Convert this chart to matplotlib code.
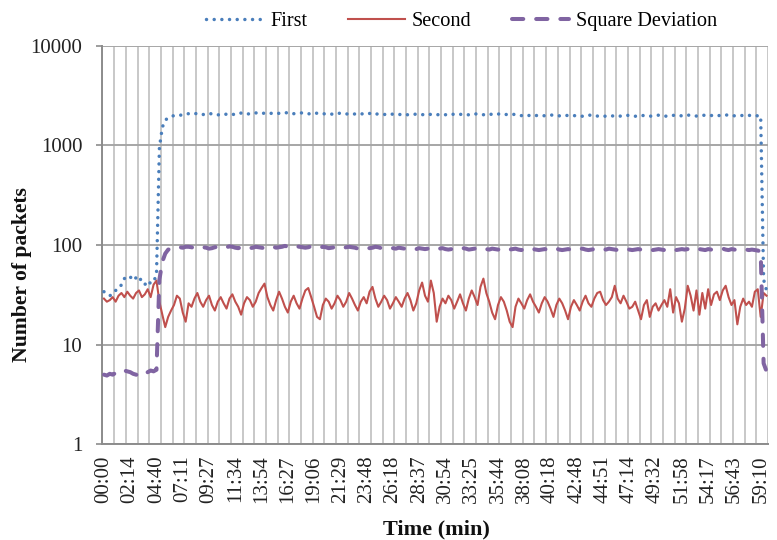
import numpy as np
import matplotlib
matplotlib.use("Agg")
import matplotlib.pyplot as plt
from matplotlib.ticker import NullLocator

plt.rcParams['font.family'] = ['Liberation Serif', 'DejaVu Serif']

# time labels shown every 9 samples
time_labels = ["00:00", "02:14", "04:40", "07:11", "09:27", "11:34", "13:54", "16:27",
               "19:06", "21:29", "23:48", "26:18", "28:37", "30:54", "33:25", "35:44",
               "38:08", "40:18", "42:48", "44:51", "47:14", "49:32", "51:58", "54:17",
               "56:43", "59:10"]

first = [34, 33, 31, 32, 35, 36, 40, 46, 49, 48, 44, 47, 49, 42, 40, 44, 41, 43, 50,
         950, 1520, 1790, 1890, 1950, 1990, 2010, 2000, 2040, 2060,
         2080, 2050, 2070, 2100, 2060, 2040, 2080, 2090, 2070, 2030,
         2020, 2050, 2030, 2060, 2080, 2050, 2040, 2090, 2110, 2070,
         2060, 2080, 2100, 2120, 2090, 2080, 2110, 2130, 2100, 2090,
         2070, 2100, 2120, 2110, 2140, 2100, 2080, 2090, 2110, 2120,
         2100, 2070, 2090, 2120, 2100, 2080, 2060, 2090, 2080, 2060,
         2050, 2080, 2110, 2090, 2070, 2060, 2040, 2070, 2100, 2080,
         2060, 2050, 2090, 2120, 2070, 2060, 2050, 2040, 2060, 2080,
         2050, 2040, 2030, 2060, 2050, 2030, 2040, 2060, 2050, 2040,
         2030, 2050, 2070, 2040, 2030, 2020, 2050, 2040, 2030, 2060,
         2070, 2040, 2030, 2050, 2040, 2020, 2030, 2060, 2080, 2050,
         2040, 2030, 2050, 2070, 2040, 2030, 2060, 2080, 2050, 2040,
         2030, 2050, 2040, 2010, 1990, 2000, 2020, 1980, 1960, 1990,
         2010, 2000, 1980, 1990, 2010, 2020, 2000, 1980, 1970, 1990,
         2000, 2010, 1990, 1980, 1970, 1960, 1980, 2000, 2020, 1990,
         1970, 1960, 1950, 1970, 1990, 1980, 1960, 1950, 1970, 1990,
         2010, 1990, 1970, 1960, 1980, 2000, 1990, 1970, 1960, 1980,
         1990, 2010, 1980, 1970, 1960, 1980, 2000, 2010, 1990, 1980,
         2000, 2020, 1990, 1980, 1970, 1990, 2010, 2000, 1980, 1990,
         2020, 2000, 1990, 1980, 2010, 2030, 2000, 1980, 1990, 2000,
         1990, 1980, 2000, 1990, 1990, 1980, 1970,
         45, 35]

second = [29, 27, 28, 30, 27, 31, 33, 30, 34, 31, 29, 33, 35, 30, 32, 36, 30, 40, 44,
          27, 20, 15, 19, 22, 25, 31, 29, 21, 17, 26, 24,
          29, 33, 27, 24, 28, 31, 25, 22, 27, 30,
          26, 23, 29, 32, 27, 24, 20, 26, 30, 28,
          24, 27, 33, 37, 41, 30, 25, 22, 28, 34,
          29, 24, 21, 27, 31, 26, 23, 29, 35, 37,
          30, 24, 19, 18, 25, 29, 27, 23, 26, 31,
          28, 24, 27, 33, 29, 25, 22, 27, 30, 26,
          34, 38, 29, 24, 27, 31, 28, 23, 26, 30,
          27, 24, 29, 33, 28, 22, 26, 35, 42, 31,
          27, 44, 33, 17, 24, 29, 26, 31, 28, 23,
          27, 32, 26, 22, 29, 35, 30, 25, 38, 46,
          33, 27, 21, 18, 25, 30, 27, 22, 17, 15,
          24, 29, 26, 23, 28, 32, 27, 24, 21, 26,
          30, 27, 23, 19, 25, 29, 26, 22, 18, 24,
          28, 25, 22, 27, 31, 26, 24, 29, 33, 34,
          28, 25, 27, 30, 39, 29, 26, 31, 27, 23,
          24, 27, 22, 18, 25, 28, 19, 24, 26, 22,
          25, 28, 24, 36, 21, 30, 26, 17, 23, 39,
          31, 22, 35, 20, 33, 23, 36, 25, 32, 34,
          28, 35, 39, 30, 25, 28, 16, 24, 29, 25,
          27, 24, 34, 36, 19, 33, 31]

square_dev = [5.0, 4.9, 5.1, 5.0, 5.2, 5.3, 5.6, 5.5, 5.4, 5.3, 5.1, 5.0, 4.9, 5.2, 5.1,
              5.3, 5.5, 5.4, 5.6,
              45, 68, 82, 90, 92, 94, 93, 95, 94, 96,
              96, 95, 93, 94, 96, 95, 94, 92, 93, 95,
              96, 94, 93, 95, 97, 96, 94, 93, 95, 96,
              95, 93, 94, 96, 95, 94, 93, 95, 97, 96,
              94, 95, 96, 98, 96, 94, 95, 97, 96, 95,
              94, 95, 97, 96, 95, 94, 96, 95, 93, 94,
              95, 96, 94, 93, 95, 96, 95, 94, 92, 93,
              95, 94, 93, 94, 96, 95, 93, 92, 93, 94,
              93, 92, 94, 93, 92, 91, 93, 92, 91, 93,
              92, 91, 92, 93, 91, 90, 92, 93, 91, 90,
              91, 92, 90, 91, 93, 92, 90, 91, 92, 90,
              91, 92, 91, 90, 92, 91, 90, 91, 93, 92,
              90, 91, 92, 90, 89, 91, 90, 89, 91, 90,
              89, 90, 91, 90, 89, 91, 92, 90, 89, 90,
              91, 90, 89, 90, 91, 92, 90, 89, 90, 91,
              90, 89, 91, 90, 92, 91, 90, 89, 90, 91,
              92, 90, 89, 90, 91, 90, 89, 91, 90, 89,
              90, 91, 90, 89, 91, 92, 90, 89, 90, 91,
              90, 91, 89, 90, 92, 91, 90, 89, 91, 90,
              89, 90, 91, 92, 90, 89, 91, 90, 89, 90,
              91, 90, 89, 90, 89, 88, 86,
              6.5, 5.4]

label_step = 9
grid_step = 4

x = np.arange(len(first))
n = len(x)

fig = plt.figure(figsize=(7.77, 5.40), dpi=100)
ax = fig.add_axes([0.1319, 0.1772, 0.8565, 0.7381])

ax.plot(x, first, color='#4a7ebb', lw=2.5, linestyle=(0, (0.01, 2.2)),
        dash_capstyle='round', label='First', zorder=3)
ax.plot(x, second, color='#c0504d', lw=1.5, label='Second', zorder=4)
ax.plot(x, square_dev, color='#8064a2', lw=2.9, linestyle=(0, (2.8, 3.2)),
        dash_capstyle='round', label='Square Deviation', zorder=5)

ax.set_yscale('log')
ax.set_ylim(1, 10000)
ax.set_yticks([1, 10, 100, 1000, 10000])
ax.set_yticklabels(['1', '10', '100', '1000', '10000'])
ax.yaxis.set_minor_locator(NullLocator())

ax.set_xlim(-0.5, n - 0.5)
ax.set_xticks(np.arange(0, n, label_step))
ax.set_xticklabels(time_labels, rotation=90)
ax.set_xticks(np.arange(-0.5, n, grid_step), minor=True)

ax.grid(which='minor', axis='x', color='#c8c8c8', lw=1.4)
ax.grid(which='major', axis='y', color='#a6a6a6', lw=1.4)
ax.grid(which='major', axis='x', visible=False)
ax.set_axisbelow(True)

ax.tick_params(axis='x', which='both', length=0, pad=8, labelsize=15, colors='#222222')
ax.tick_params(axis='y', which='major', length=4, width=1.2, color='#8c8c8c',
               pad=10.5, labelsize=15, labelcolor='#222222')

for side in ['top', 'right']:
    ax.spines[side].set_visible(False)
for side in ['left', 'bottom']:
    ax.spines[side].set_color('#8c8c8c')
    ax.spines[side].set_linewidth(1.4)

fig.text(21.7 / 777, 1 - 275 / 540, 'Number of packets', rotation=90,
         ha='center', va='center', fontsize=15.6, fontweight='bold', color='#111111')
fig.text(436 / 777, 1 - 534.5 / 540, 'Time (min)', ha='center', va='baseline',
         fontsize=16, fontweight='bold', color='#111111')

fig.legend(loc='center', bbox_to_anchor=(461.5 / 777, 1 - 21.7 / 540), ncol=3,
           frameon=False, fontsize=14.6, handlelength=2.8, handletextpad=0.35,
           columnspacing=2.0, borderpad=0)

fig.savefig('out.png', dpi=100)
